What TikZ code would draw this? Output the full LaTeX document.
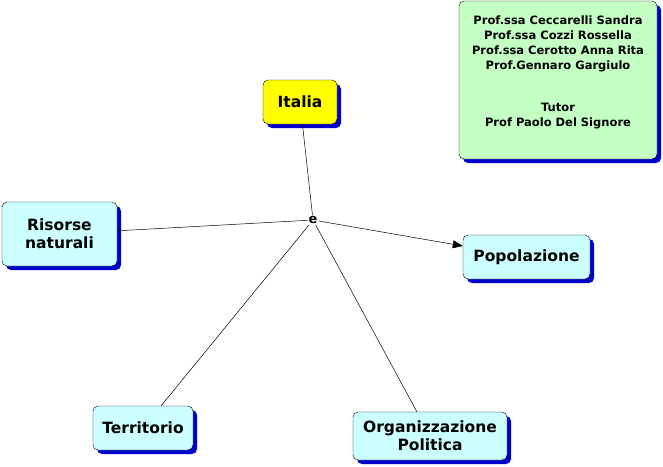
\documentclass[tikz,border=0pt]{standalone}
\usepackage{fontspec}
\setmainfont{DejaVu Sans}
\usetikzlibrary{arrows.meta,shadows}
\definecolor{mapcyan}{HTML}{CCFFFF}
\definecolor{mapyellow}{HTML}{FFFF00}
\definecolor{mapgreen}{HTML}{C4FFC4}
\definecolor{mapshadow}{HTML}{0000CC}
\begin{document}
\begin{tikzpicture}[x=1pt,y=-1pt,
  concept/.style={draw=black, thin, fill=mapcyan, rounded corners=5pt, align=center,
    inner sep=2pt, font=\fontsize{15.5}{18}\selectfont\bfseries,
    drop shadow={shadow xshift=4pt, shadow yshift=-4pt, fill=mapshadow, opacity=1}},
  link/.style={draw=black, line width=0.5pt}]
  \useasboundingbox (0,0) rectangle (663,466);
  \node[concept, fill=mapyellow, minimum width=74pt, minimum height=44pt] (IT) at (300,102) {Italia};
  \node[concept, fill=mapgreen, inner sep=4pt] (AUT) at (558,80)
    {\parbox[c][150pt][t]{190pt}{\centering\fontsize{11.5}{15}\selectfont\bfseries
      \vspace*{11pt}Prof.ssa Ceccarelli Sandra\\Prof.ssa Cozzi Rossella\\Prof.ssa Cerotto Anna Rita\\Prof.Gennaro Gargiulo\\[27pt]Tutor\\Prof Paolo Del Signore}};
  \node[concept, minimum width=115pt, minimum height=64pt] (RN) at (59.5,234) {Risorse\\naturali};
  \node[concept, minimum width=127pt, minimum height=44pt] (POP) at (526.5,257) {Popolazione};
  \node[concept, minimum width=100pt, minimum height=44pt] (TER) at (143,428) {Territorio};
  \node[concept, minimum width=154pt, minimum height=48pt] (ORG) at (430,436) {Organizzazione\\Politica};
  \node[font=\fontsize{13}{14}\selectfont\bfseries, inner sep=1pt] (E) at (313,220) {e};
  \draw[link] (E) -- (IT);
  \draw[link] (E) -- (RN);
  \draw[link, -{Triangle[length=10pt,width=8pt]}] (E) -- (POP);
  \draw[link] (E) -- (TER);
  \draw[link] (E) -- (ORG);
\end{tikzpicture}
\end{document}
